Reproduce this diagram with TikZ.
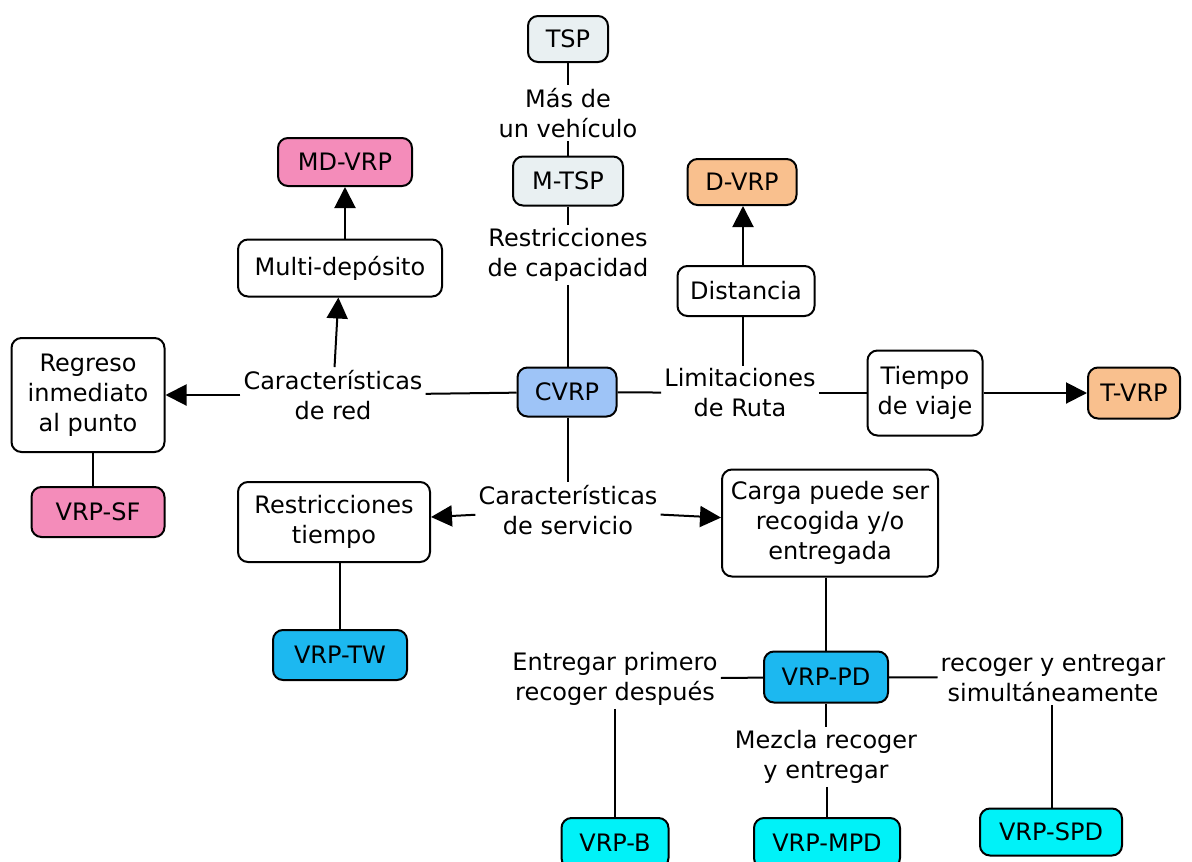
\documentclass[tikz,border=0pt]{standalone}
\usepackage{fontspec}
\setmainfont{DejaVu Sans}
\usetikzlibrary{arrows.meta}
\definecolor{tspc}{HTML}{E9F0F2}
\definecolor{cvrpc}{HTML}{9EC4F7}
\definecolor{pinkc}{HTML}{F48CBA}
\definecolor{orangec}{HTML}{F9C08E}
\definecolor{bluec}{HTML}{1CB8F0}
\definecolor{cyanc}{HTML}{00F2F8}
\begin{document}
\begin{tikzpicture}[x=1pt,y=-1pt,
  txt/.style={font=\fontsize{24}{30}\selectfont},
  box/.style={txt,draw,line width=2pt,rounded corners=10pt,align=center,inner sep=2pt},
  lbl/.style={txt,align=center,inner sep=3pt},
  conn/.style={line width=2pt},
  arr/.style={line width=2pt,-{Triangle[length=21pt,width=21pt]}}]
\useasboundingbox (0,0) rectangle (1192,862);

% boxes
\node[box,fill=tspc,minimum width=80pt,minimum height=46pt] (tsp) at (568,39) {TSP};
\node[box,fill=tspc,minimum width=110pt,minimum height=49pt] (mtsp) at (568,181) {M-TSP};
\node[box,fill=cvrpc,minimum width=99pt,minimum height=49pt] (cvrp) at (567,392) {CVRP};
\node[box,fill=pinkc,minimum width=134pt,minimum height=48pt] (mdvrp) at (345,162) {MD-VRP};
\node[box,fill=white,minimum width=204pt,minimum height=57pt] (multi) at (340,268) {Multi-depósito};
\node[box,fill=white,minimum width=153pt,minimum height=114pt] (regreso) at (88,395) {Regreso\\inmediato\\al punto};
\node[box,fill=pinkc,minimum width=133pt,minimum height=50pt] (vrpsf) at (98,512) {VRP-SF};
\node[box,fill=orangec,minimum width=109pt,minimum height=46pt] (dvrp) at (742,182) {D-VRP};
\node[box,fill=white,minimum width=137pt,minimum height=50pt] (distancia) at (746,291) {Distancia};
\node[box,fill=white,minimum width=115pt,minimum height=85pt] (tiempo) at (925,393) {Tiempo\\de viaje};
\node[box,fill=orangec,minimum width=92pt,minimum height=51pt] (tvrp) at (1134,393) {T-VRP};
\node[box,fill=white,minimum width=192pt,minimum height=80pt] (restiempo) at (334,522) {Restricciones\\tiempo};
\node[box,fill=white,minimum width=216pt,minimum height=107pt] (carga) at (830,523) {Carga puede ser\\recogida y/o\\entregada};
\node[box,fill=bluec,minimum width=134pt,minimum height=50pt] (vrptw) at (340,655) {VRP-TW};
\node[box,fill=bluec,minimum width=124pt,minimum height=51pt] (vrppd) at (826,677) {VRP-PD};
\node[box,fill=cyanc,minimum width=107pt,minimum height=50pt] (vrpb) at (615,843) {VRP-B};
\node[box,fill=cyanc,minimum width=146pt,minimum height=50pt] (vrpmpd) at (827,843) {VRP-MPD};
\node[box,fill=cyanc,minimum width=142pt,minimum height=47pt] (vrpspd) at (1051,832) {VRP-SPD};

% labels
\node[lbl] (lmas) at (568,113) {Más de\\un vehículo};
\node[lbl] (lcap) at (568,255) {Restricciones\\de capacidad};
\node[lbl] (lred) at (333,395) {Características\\de red};
\node[lbl] (lruta) at (740,393) {Limitaciones\\de Ruta};
\node[lbl] (lserv) at (568,510) {Características\\de servicio};
\node[lbl] (lentr) at (615,679) {Entregar primero\\recoger después};
\node[lbl] (lmez) at (826,757) {Mezcla recoger\\y entregar};
\node[lbl] (lsim) at (1053,678) {recoger y entregar\\simultáneamente};

% connectors
\draw[conn] (tsp) -- (lmas);
\draw[conn] (lmas) -- (mtsp);
\draw[conn] (mtsp) -- (lcap);
\draw[conn] (lcap.south -| 568,0) -- (cvrp.north -| 568,0);
\draw[conn] (cvrp) -- (lred);
\draw[arr] (lred) -- (regreso);
\draw[arr] (lred) -- (multi);
\draw[arr] (multi.north -| 345,0) -- (mdvrp.south -| 345,0);
\draw[conn] (regreso.south -| 93,0) -- (vrpsf.north -| 93,0);
\draw[conn] (cvrp) -- (lruta);
\draw[conn] (lruta.north -| 743,0) -- (distancia.south -| 743,0);
\draw[arr] (distancia.north -| 743,0) -- (dvrp.south -| 743,0);
\draw[conn] (lruta) -- (tiempo);
\draw[arr] (tiempo) -- (tvrp);
\draw[conn] (cvrp.south -| 568,0) -- (lserv.north -| 568,0);
\draw[arr] (lserv) -- (restiempo);
\draw[arr] (lserv) -- (carga);
\draw[conn] (restiempo.south -| 340,0) -- (vrptw.north -| 340,0);
\draw[conn] (carga.south -| 826,0) -- (vrppd.north -| 826,0);
\draw[conn] (vrppd) -- (lentr);
\draw[conn] (lentr) -- (vrpb);
\draw[conn] (vrppd) -- (lmez);
\draw[conn] (lmez.south -| 827,0) -- (vrpmpd.north -| 827,0);
\draw[conn] (vrppd) -- (lsim);
\draw[conn] (lsim.south -| 1052,0) -- (vrpspd.north -| 1052,0);
\end{tikzpicture}
\end{document}
